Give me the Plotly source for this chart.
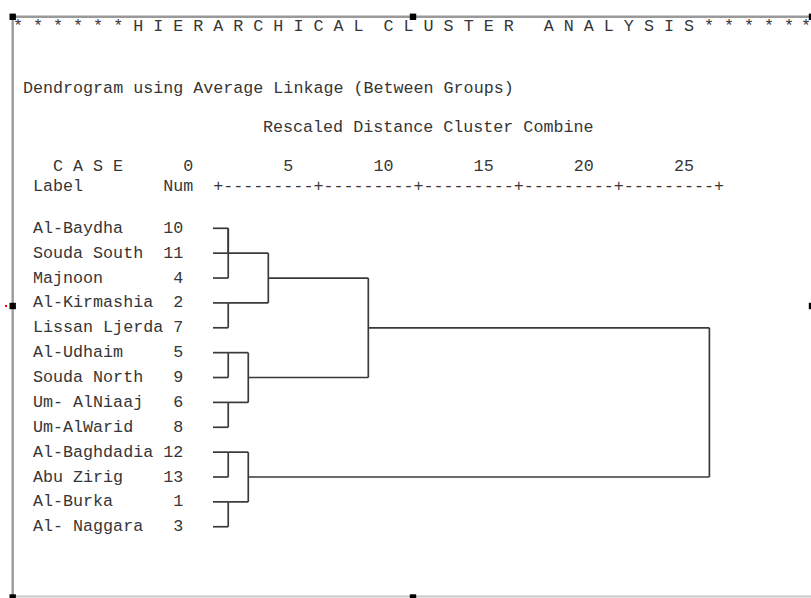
import plotly.graph_objects as go

# ---------------- data ----------------
case_labels = ["Al-Baydha", "Souda South", "Majnoon", "Al-Kirmashia", "Lissan Ljerda",
               "Al-Udhaim", "Souda North", "Um- AlNiaaj", "Um-AlWarid",
               "Al-Baghdadia", "Abu Zirig", "Al-Burka", "Al- Naggara"]
case_nums = [10, 11, 4, 2, 7, 5, 9, 6, 8, 12, 13, 1, 3]

# agglomeration schedule (leaf = case number, "mK" = K-th merge), rescaled distances
merge_a = [10, "m0", 2, "m1", 5, 6, "m4", "m3", 12, 1, "m8", "m7"]
merge_b = [11, 4, 7, "m2", 9, 8, "m5", "m6", 13, 3, "m9", "m10"]
merge_dist = [0.76, 0.76, 0.76, 2.76, 0.76, 0.76, 1.76, 7.75, 0.76, 0.76, 1.76, 24.77]

scale_ticks = ["0", "5", "10", "15", "20", "25"]

title_text = "* * * * * * H I E R A R C H I C A L  C L U S T E R   A N A L Y S I S * * * * *"
title_last = "*"
method_text = "Dendrogram using Average Linkage (Between Groups)"
scale_title = "Rescaled Distance Cluster Combine"

# ---------------- layout constants ----------------
W, H = 811, 598
PITCH = 10.02            # monospace character pitch (px)
COL0 = 32.6              # left edge of character column 0
X0_PX = 213.0            # pixel of distance 0
PX_PER_UNIT = 20.04
ROW0_PX = 228.3
ROW_PITCH = 24.87
FONT = "Liberation Mono, Courier New, monospace"
FSIZE = 16.7
TXT = "#363636"
LINE = "#3a3a3a"

def px(x):
    return x / W

def py(y):
    return 1 - y / H

def nb(s):
    return s.replace(" ", "\u00a0")

# ---------------- dendrogram geometry from schedule ----------------
row_of = {n: i for i, n in enumerate(case_nums)}
node = {}  # key -> (anchor row, height)
for n in case_nums:
    node[n] = (row_of[n], 0.0)

xs, ys = [], []
for k, (a, b, d) in enumerate(zip(merge_a, merge_b, merge_dist)):
    ra, ha = node[a]
    rb, hb = node[b]
    xs += [ha, d, None, hb, d, None]
    ys += [ra, ra, None, rb, rb, None]
    xs += [d, d, None]
    ys += [ra, rb, None]
    node["m%d" % k] = ((ra + rb) // 2, d)

fig = go.Figure()
fig.add_trace(go.Scatter(x=xs, y=ys, mode="lines",
                         line=dict(color=LINE, width=1.7),
                         hoverinfo="skip", showlegend=False))

annotations = []

def add_text(text, x_px, y_px, size=FSIZE, color=TXT, anchor="left"):
    annotations.append(dict(text=nb(text), x=px(x_px), y=py(y_px),
                            xref="paper", yref="paper",
                            xanchor=anchor, yanchor="middle",
                            showarrow=False, borderpad=0, borderwidth=0,
                            font=dict(family=FONT, size=size, color=color)))

# header lines
add_text(title_text, COL0 - 2 * PITCH, 27)
add_text(title_last, W, 27, anchor="right")
add_text(method_text, COL0 - PITCH, 88)
add_text(scale_title, COL0 + 23 * PITCH, 128)

# "C A S E" + scale numbers
cols = [15, 25, 34, 44, 54, 64]
line = list(" " * 66)
for ch_i, ch in enumerate("  C A S E"):
    line[ch_i] = ch
for t, c in zip(scale_ticks, cols):
    for j, ch in enumerate(t):
        line[c + j] = ch
add_text("".join(line).rstrip(), COL0, 167)

# "Label  Num  +----+" ruler
ruler = "+" + ("-" * 9 + "+") * 5
add_text("Label" + " " * 8 + "Num" + "  " + ruler, COL0, 186.7)

# case rows
for i, (lab, num) in enumerate(zip(case_labels, case_nums)):
    add_text(f"{lab:<13}{num:>2}", COL0, ROW0_PX + ROW_PITCH * i)

# ---------------- frame and selection handles ----------------
shapes = []
frame_col = "#9a9a9a"
shapes.append(dict(type="line", xref="paper", yref="paper",
                   x0=px(12.7), x1=px(811), y0=py(16.8), y1=py(16.8),
                   line=dict(color=frame_col, width=2.4)))
shapes.append(dict(type="line", xref="paper", yref="paper",
                   x0=px(12.7), x1=px(12.7), y0=py(16.8), y1=py(598),
                   line=dict(color=frame_col, width=2.4)))
shapes.append(dict(type="line", xref="paper", yref="paper",
                   x0=px(12.7), x1=px(811), y0=py(596.5), y1=py(596.5),
                   line=dict(color="#c8c8c8", width=2)))
for hx, hy in [(12.7, 16.8), (413, 16.8), (812, 16.8), (12.7, 306),
               (812, 306), (12.7, 597.5), (413, 597.5)]:
    shapes.append(dict(type="rect", xref="paper", yref="paper",
                       x0=px(hx - 3.2), x1=px(hx + 3.2),
                       y0=py(hy - 3.2), y1=py(hy + 3.2),
                       fillcolor="#000000", line=dict(width=0)))
shapes.append(dict(type="rect", xref="paper", yref="paper",
                   x0=px(5), x1=px(7), y0=py(305), y1=py(307),
                   fillcolor="#ff0000", line=dict(width=0)))

fig.update_layout(
    width=W, height=H,
    margin=dict(l=0, r=0, t=0, b=0),
    paper_bgcolor="white", plot_bgcolor="white",
    xaxis=dict(visible=False,
               range=[-X0_PX / PX_PER_UNIT, (W - X0_PX) / PX_PER_UNIT]),
    yaxis=dict(visible=False,
               range=[(H - ROW0_PX) / ROW_PITCH, -ROW0_PX / ROW_PITCH]),
    annotations=annotations,
    shapes=shapes,
    showlegend=False,
    hovermode=False,
)

fig.write_html("out.html", config={"displayModeBar": False, "staticPlot": True})

# remove the browser's default page margin so the figure fills the window
with open("out.html", encoding="utf-8") as f:
    html = f.read()
html = html.replace("<head>", "<head><style>html,body{margin:0;padding:0;overflow:hidden;}</style>", 1)
with open("out.html", "w", encoding="utf-8") as f:
    f.write(html)
